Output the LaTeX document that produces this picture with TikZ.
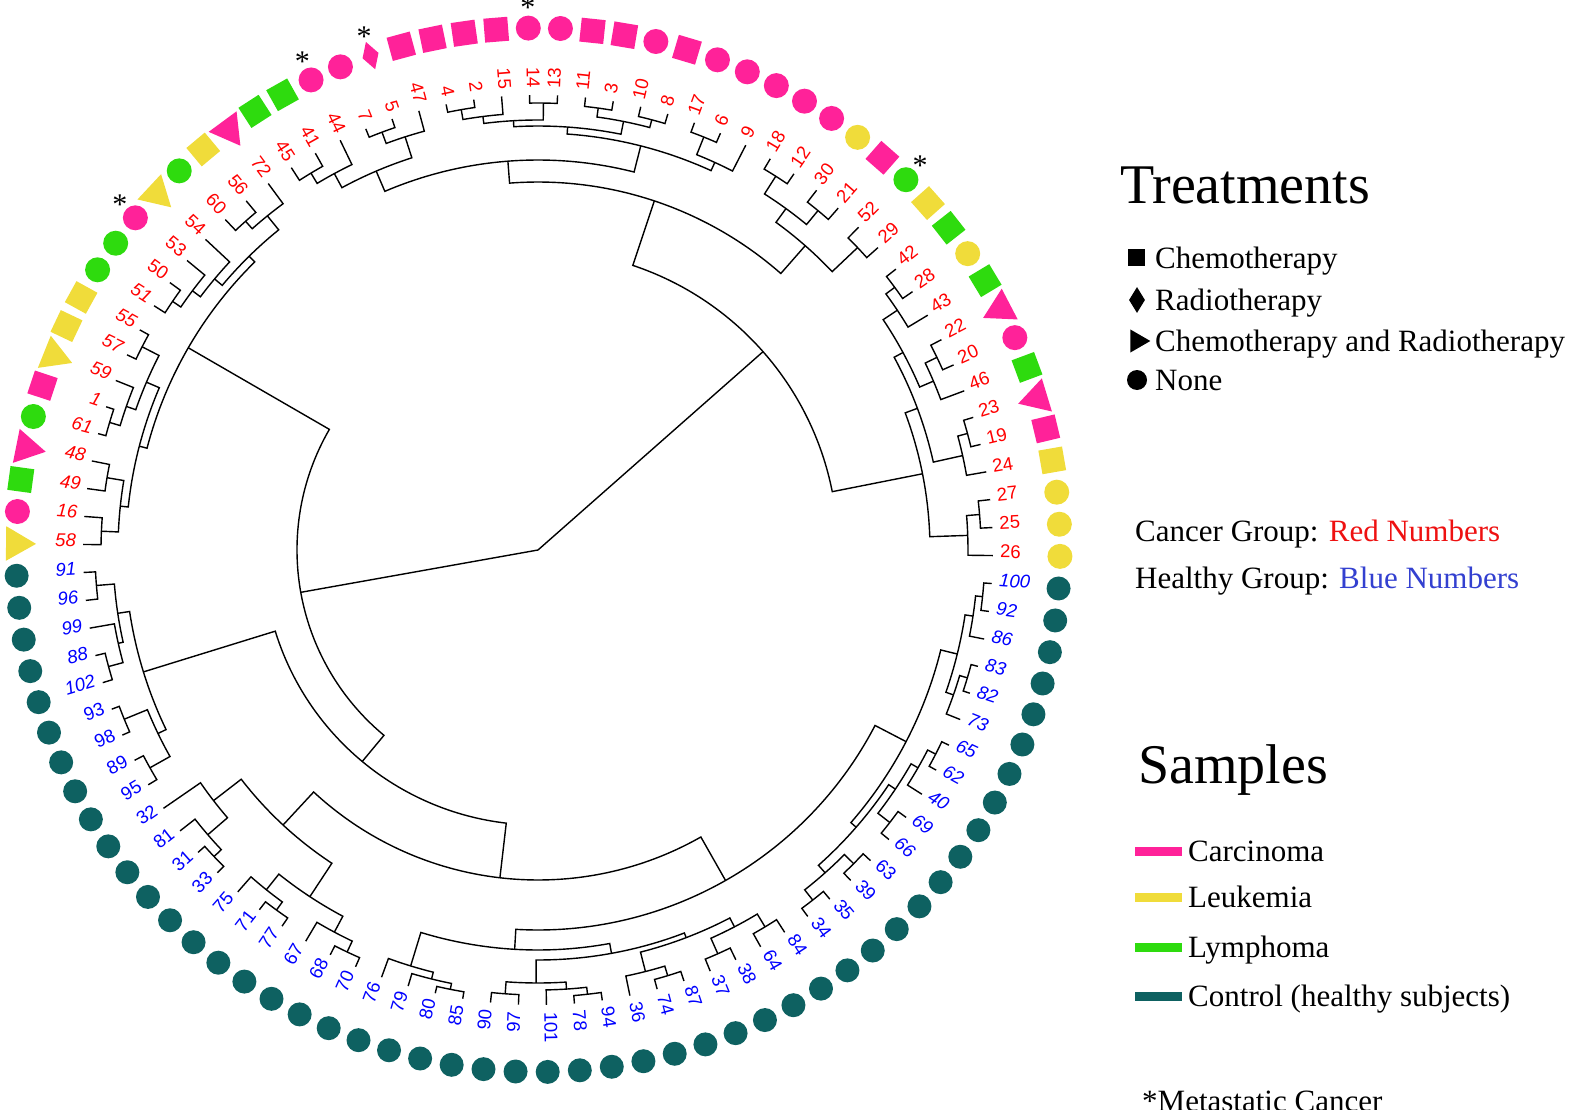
\documentclass[tikz,border=0pt]{standalone}
\usepackage{fontspec}
\setmainfont{Liberation Serif}
\newfontfamily\lsans{Liberation Sans}
\usetikzlibrary{shapes.geometric}
\definecolor{colP}{HTML}{FF2299}
\definecolor{colY}{HTML}{F0DC3A}
\definecolor{colG}{HTML}{2EDB0E}
\definecolor{colT}{HTML}{0E6161}
\definecolor{labR}{HTML}{FF0000}
\definecolor{labB}{HTML}{0000FF}
\definecolor{txtR}{HTML}{EE1111}
\definecolor{txtB}{HTML}{3340D0}
\newcommand\tsetA[2]{\expandafter\xdef\csname tA-#1\endcsname{#2}}
\newcommand\tgetA[1]{\csname tA-#1\endcsname}
\newcommand\tsetR[2]{\expandafter\xdef\csname tR-#1\endcsname{#2}}
\newcommand\tgetR[1]{\csname tR-#1\endcsname}
\newcommand\dnode[4]{%
  \pgfmathsetmacro\jnA{(\tgetA{#2}+\tgetA{#3})/2}%
  \tsetA{#1}{\jnA}\tsetR{#1}{#4}%
  \coordinate (#1) at (\jnA:#4pt);%
  \draw[tree] (#2) -- (\tgetA{#2}:#4pt) arc[start angle=\tgetA{#2}, end angle=\tgetA{#3}, radius=#4pt] -- (#3);%
}
\tikzset{
  tree/.style={line width=1.4pt, black},
  lbl/.style={inner sep=0pt, font=\lsans\fontsize{18.5}{18.5}\selectfont},
  mk c/.style={circle, minimum size=25pt, inner sep=0pt},
  mk s/.style={rectangle, minimum size=24pt, inner sep=0pt, rotate=\ang},
  mk t/.style={isosceles triangle, isosceles triangle apex angle=60, minimum height=30pt, inner sep=0pt, rotate=\ang+180},
  mk d/.style={diamond, minimum width=29pt, minimum height=17pt, inner sep=0pt, rotate=\ang},
  starlbl/.style={inner sep=0pt, font=\fontsize{30}{30}\selectfont},
  legtitle/.style={anchor=base west, inner sep=0pt, font=\fontsize{56}{56}\selectfont},
  legtext/.style={anchor=base west, inner sep=0pt, font=\fontsize{31}{31}\selectfont},
  legbar/.style={rectangle, minimum width=47pt, minimum height=9pt, inner sep=0pt, anchor=west},
}
\begin{document}
\begin{tikzpicture}[x=1pt,y=1pt]
\useasboundingbox (-538,-559) rectangle (1057,550);
% ---------- red leaves ----------
\foreach \lab/\k/\mk/\mc/\st in {58/0/t/Y/i, 16/1/c/P/i, 49/2/s/G/i, 48/3/t/P/i, 61/4/c/G/i, 1/5/s/P/i, 59/6/t/Y/i, 57/7/s/Y/i, 55/8/s/Y/i, 51/9/c/G/i, 50/10/c/G/n, 53/11/c/P/n, 54/12/t/Y/n, 60/13/c/G/n, 56/14/s/Y/n, 72/15/t/P/n, 45/16/s/G/n, 41/17/s/G/n, 44/18/c/P/n, 7/19/c/P/n, 5/20/d/P/n, 47/21/s/P/n, 4/22/s/P/n, 2/23/s/P/n, 15/24/s/P/n, 14/25/c/P/n, 13/26/c/P/n, 11/27/s/P/n, 3/28/s/P/n, 10/29/c/P/n, 8/30/s/P/n, 17/31/c/P/n, 6/32/c/P/n, 9/33/c/P/n, 18/34/c/P/n, 12/35/c/P/n, 30/36/c/Y/n, 21/37/s/P/n, 52/38/c/G/n, 29/39/s/Y/n, 42/40/s/G/n, 28/41/c/Y/n, 43/42/s/G/n, 22/43/t/P/n, 20/44/c/P/n, 46/45/s/G/n, 23/46/t/P/n, 19/47/s/P/n, 24/48/s/Y/n, 27/49/c/Y/n, 25/50/c/Y/n, 26/51/c/Y/n}{
  \pgfmathsetmacro\ang{179.3-3.5294*\k}
  \tsetA{l\lab}{\ang}\tsetR{l\lab}{455}
  \coordinate (l\lab) at (\ang:455pt);
  \pgfmathtruncatemacro\fl{cos(\ang)<0}
  \ifnum\fl=1
    \pgfmathsetmacro\rot{\ang-180}\def\anc{mid east}
  \else
    \pgfmathsetmacro\rot{\ang}\def\anc{mid west}
  \fi
  \node[lbl, text=labR, rotate=\rot, anchor=\anc] (t\lab) at (\ang:462pt) {\if\st i\itshape\fi\lab};
  \node[mk \mk, fill=col\mc] (m\lab) at (\ang:522pt) {};
}
% ---------- blue leaves ----------
\foreach \lab/\k/\st in {100/52/i, 92/53/i, 86/54/i, 83/55/i, 82/56/i, 73/57/i, 65/58/i, 62/59/i, 40/60/i, 69/61/i, 66/62/i, 63/63/n, 39/64/n, 35/65/n, 34/66/n, 84/67/n, 64/68/n, 38/69/n, 37/70/n, 87/71/n, 74/72/n, 36/73/n, 94/74/n, 78/75/n, 101/76/n, 97/77/n, 90/78/n, 85/79/n, 80/80/n, 79/81/n, 76/82/n, 70/83/n, 68/84/n, 67/85/n, 77/86/n, 71/87/n, 75/88/n, 33/89/n, 31/90/n, 81/91/n, 32/92/n, 95/93/n, 89/94/n, 98/95/n, 93/96/n, 102/97/i, 88/98/i, 99/99/i, 96/100/i, 91/101/i}{
  \pgfmathsetmacro\ang{539.3-3.5294*\k}
  \tsetA{l\lab}{\ang}\tsetR{l\lab}{455}
  \coordinate (l\lab) at (\ang:455pt);
  \pgfmathtruncatemacro\fl{cos(\ang)<0}
  \ifnum\fl=1
    \pgfmathsetmacro\rot{\ang-180}\def\anc{mid east}
  \else
    \pgfmathsetmacro\rot{\ang}\def\anc{mid west}
  \fi
  \node[lbl, text=labB, rotate=\rot, anchor=\anc] (t\lab) at (\ang:462pt) {\if\st i\itshape\fi\lab};
  \node[mk c, minimum size=24pt, fill=colT] (m\lab) at (\ang:522pt) {};
}
% ---------- metastatic stars ----------
\foreach \lab in {53,44,5,14,52}{
  \node[starlbl] (s\lab) at (\tgetA{l\lab}:542pt) {*};
}
% ---------- tree: red, left ----------
\dnode{q16}{l16}{l58}{437}
\dnode{q48}{l48}{l49}{437}
\dnode{Yl}{q48}{q16}{420}
\dnode{q1}{l1}{l61}{447}
\dnode{q59}{l59}{q1}{436}
\dnode{q55}{l55}{l57}{445}
\dnode{X55}{q55}{q59}{426}
\dnode{Q1}{X55}{Yl}{412}
\dnode{q50}{l51}{l50}{442}
\dnode{q53}{q50}{l53}{432}
\dnode{q54}{q53}{l54}{422}
\dnode{q60}{l60}{l56}{440}
\dnode{q72}{q60}{l72}{430}
\dnode{C1}{q54}{q72}{412}
\dnode{B1}{C1}{Q1}{404}
% ---------- tree: red, top/right ----------
\dnode{q45}{l45}{l41}{440}
\dnode{q44}{q45}{l44}{428}
\dnode{q7}{l7}{l5}{446}
\dnode{q47}{q7}{l47}{434}
\dnode{LC}{q44}{q47}{412}
\dnode{q4}{l4}{l2}{447}
\dnode{T1}{q4}{l15}{437}
\dnode{T2}{l14}{l13}{447}
\dnode{Xt}{T1}{T2}{430}
\dnode{q11}{l11}{l3}{446}
\dnode{q10}{l10}{l8}{445}
\dnode{T3}{q11}{q10}{437}
\dnode{Yt}{Xt}{T3}{424}
\dnode{q17}{l17}{l6}{445}
\dnode{q9}{q17}{l9}{426}
\dnode{Zt}{Yt}{q9}{417}
\dnode{Vt}{LC}{Zt}{390}
\dnode{q18}{l18}{l12}{443}
\dnode{q30}{l30}{l21}{440}
\dnode{q1821}{q18}{q30}{422}
\dnode{q52}{l52}{l29}{440}
\dnode{R1}{q1821}{q52}{405}
\dnode{A1}{Vt}{R1}{368}
\dnode{q42}{l42}{l28}{443}
\dnode{q43}{q42}{l43}{432}
\dnode{q22}{l22}{l20}{443}
\dnode{q46}{q22}{l46}{430}
\dnode{q4246}{q43}{q46}{415}
\dnode{q23}{l23}{l19}{445}
\dnode{q24}{q23}{l24}{435}
\dnode{A2a}{q4246}{q24}{405}
\dnode{q27}{l27}{l25}{443}
\dnode{q26}{q27}{l26}{430}
\dnode{A2}{A2a}{q26}{392}
\dnode{A}{A1}{A2}{300}
% ---------- tree: blue ----------
\dnode{b100}{l100}{l92}{447}
\dnode{b86}{b100}{l86}{440}
\dnode{b83}{l83}{l82}{448}
\dnode{b73}{b83}{l73}{440}
\dnode{RB1}{b86}{b73}{432}
\dnode{b65}{l65}{l62}{447}
\dnode{b40}{b65}{l40}{438}
\dnode{b69}{l69}{l66}{445}
\dnode{RB2}{b40}{b69}{430}
\dnode{b63}{l63}{l39}{445}
\dnode{b35}{l35}{l34}{445}
\dnode{RB3}{b63}{b35}{432}
\dnode{RB23}{RB2}{RB3}{422}
\dnode{RB}{RB1}{RB23}{415}
\dnode{b84}{l84}{l64}{440}
\dnode{b38}{l38}{l37}{442}
\dnode{BCa}{b84}{b38}{425}
\dnode{b87}{l87}{l74}{445}
\dnode{BCb}{b87}{l36}{435}
\dnode{BCab}{BCa}{BCb}{415}
\dnode{b94}{l94}{l78}{447}
\dnode{b101}{b94}{l101}{440}
\dnode{b97}{l97}{l90}{445}
\dnode{BCc}{b101}{b97}{433}
\dnode{BCabc}{BCab}{BCc}{410}
\dnode{b85}{l85}{l80}{448}
\dnode{b79}{b85}{l79}{442}
\dnode{BCd}{b79}{l76}{435}
\dnode{BC}{BCabc}{BCd}{400}
\dnode{Rb}{BC}{RB}{380}
\dnode{b31}{l31}{l33}{446}
\dnode{b81}{l81}{b31}{436}
\dnode{C32}{l32}{b81}{410}
\dnode{b71}{l71}{l77}{445}
\dnode{b75}{l75}{b71}{435}
\dnode{b68}{l68}{l70}{445}
\dnode{b67}{l67}{b68}{433}
\dnode{C75}{b75}{b67}{415}
\dnode{BL}{C32}{C75}{375}
\dnode{BB}{BL}{Rb}{330}
\dnode{b91}{l91}{l96}{443}
\dnode{b88}{l88}{l102}{445}
\dnode{b99}{l99}{b88}{430}
\dnode{LB1}{b91}{b99}{425}
\dnode{b93}{l93}{l98}{447}
\dnode{b89}{l89}{l95}{445}
\dnode{LB2}{b93}{b89}{422}
\dnode{LB}{LB1}{LB2}{413}
\dnode{B2}{LB}{BB}{275}
\dnode{B}{B1}{B2}{241}
\coordinate (root) at (0,0);
\draw[tree] (root) -- (A);
\draw[tree] (root) -- (B);
% ---------- legend ----------
\node[legtitle] (treat) at (582,346) {Treatments};
\node[rectangle, fill=black, minimum size=17pt, inner sep=0pt] (lg1) at (598,292) {};
\node[diamond, fill=black, minimum width=16pt, minimum height=26pt, inner sep=0pt] (lg2) at (599,250) {};
\node[isosceles triangle, isosceles triangle apex angle=60, fill=black, minimum height=20pt, inner sep=0pt] (lg3) at (599,209) {};
\node[circle, fill=black, minimum size=20pt, inner sep=0pt] (lg4) at (599,170) {};
\node[legtext] (lt1) at (617,281) {Chemotherapy};
\node[legtext] (lt2) at (617,240) {Radiotherapy};
\node[legtext] (lt3) at (617,199) {Chemotherapy and Radiotherapy};
\node[legtext] (lt4) at (617,160) {None};
\node[legtext] (cg) at (597,9) {Cancer Group: \textcolor{txtR}{Red Numbers}};
\node[legtext] (hg) at (597,-38) {Healthy Group: \textcolor{txtB}{Blue Numbers}};
\node[legtitle] (samp) at (600,-233) {Samples};
\node[legbar, fill=colP] (bar1) at (597,-301) {};
\node[legbar, fill=colY] (bar2) at (597,-347) {};
\node[legbar, fill=colG] (bar3) at (597,-397) {};
\node[legbar, fill=colT] (bar4) at (597,-446) {};
\node[legtext] (st1) at (650,-311) {Carcinoma};
\node[legtext] (st2) at (650,-357) {Leukemia};
\node[legtext] (st3) at (650,-407) {Lymphoma};
\node[legtext] (st4) at (650,-456) {Control (healthy subjects)};
\node[legtext] (meta) at (604,-561) {*Metastatic Cancer};
\end{tikzpicture}
\end{document}
